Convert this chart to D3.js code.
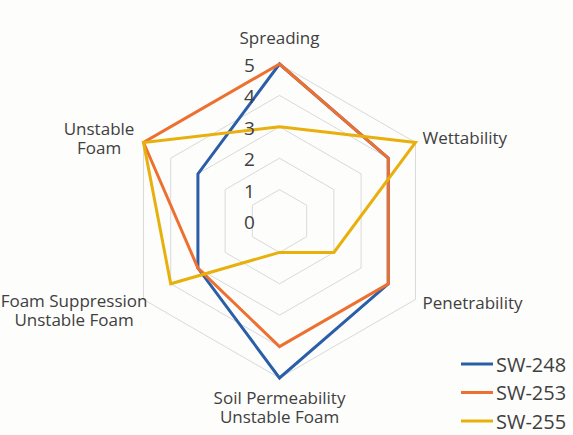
<!DOCTYPE html>
<html>
<head>
<meta charset="utf-8">
<script src="https://cdn.jsdelivr.net/npm/d3@7"></script>
<style>
  html, body { margin: 0; padding: 0; background: #fdfdfc; }
  svg { display: block; }
  text { font-family: "Open Sans", sans-serif; fill: #404040; }
</style>
</head>
<body>
<svg id="chart" width="573" height="435"></svg>
<script>
// ---- data ----
const axes = ["Spreading", "Wettability", "Penetrability", "Soil Permeability", "Foam Suppression", "Unstable Foam"];
const axisLabelLines = [
  ["Spreading"],
  ["Wettability"],
  ["Penetrability"],
  ["Soil Permeability", "Unstable Foam"],
  ["Foam Suppression", "Unstable Foam"],
  ["Unstable", "Foam"]
];
const seriesNames = ["SW-248", "SW-253", "SW-255"];
const sw248 = [5, 4, 4, 5, 3, 3];
const sw253 = [5, 4, 4, 4, 3, 5];
const sw255 = [3, 5, 2, 1, 4, 5];
const tickValues = [0, 1, 2, 3, 4, 5];
const colors = ["#2a5ea8", "#ee7030", "#e8b00c"];

// ---- layout ----
const W = 573, H = 435;
const cx = 279.5, cy = 221, R = 157;
const svg = d3.select("#chart");
svg.append("rect").attr("width", W).attr("height", H).attr("fill", "#fdfdfc");

const r = d3.scaleLinear().domain([0, 5]).range([0, R]);
const angle = d3.scaleLinear().domain([0, axes.length]).range([0, 2 * Math.PI]);
const g = svg.append("g").attr("transform", `translate(${cx},${cy})`);

function pt(i, v) {
  const a = angle(i);
  return [r(v) * Math.sin(a), -r(v) * Math.cos(a)];
}

// grid rings
const ringLine = d3.lineRadial().angle((d, i) => angle(i)).radius(d => r(d)).curve(d3.curveLinearClosed);
tickValues.filter(t => t > 0).forEach(t => {
  g.append("path")
    .attr("d", ringLine(axes.map(() => t)))
    .attr("fill", "none")
    .attr("stroke", "#d9d9d9")
    .attr("stroke-width", 1);
});

// series
const series = [sw248, sw253, sw255];
const line = d3.lineRadial().angle((d, i) => angle(i)).radius(d => r(d)).curve(d3.curveLinearClosed);
series.forEach((s, k) => {
  g.append("path")
    .attr("d", line(s))
    .attr("fill", "none")
    .attr("stroke", colors[k])
    .attr("stroke-width", 3)
    .attr("stroke-linejoin", "miter");
});

// tick labels
g.selectAll("text.tick").data(tickValues).join("text")
  .attr("class", "tick")
  .attr("x", -30)
  .attr("y", d => -r(d) + 8)
  .attr("text-anchor", "middle")
  .attr("font-size", 19)
  .text(d => d);

// axis labels (multi-line labels as one text with tspans)
const labelLayout = [
  { anchor: "middle", dx: 0, dy: -20 },
  { anchor: "start", dx: 7, dy: 1 },
  { anchor: "start", dx: 7, dy: 9 },
  { anchor: "middle", dx: 0, dy: 26 },
  { anchor: "middle", dx: -69.5, dy: 7.5 },
  { anchor: "middle", dx: -44.5, dy: -7.5 }
];
const lh = 19;
axes.forEach((name, i) => {
  const [vx, vy] = pt(i, 5);
  const L = labelLayout[i];
  const x = vx + L.dx;
  const t = g.append("text")
    .attr("font-size", 17)
    .attr("text-anchor", L.anchor)
    .attr("x", x)
    .attr("y", vy + L.dy);
  axisLabelLines[i].forEach((s, j) => {
    t.append("tspan").attr("x", x).attr("dy", j === 0 ? 0 : lh).text(s);
  });
});

// legend
const legend = svg.append("g");
const legendY = d3.scalePoint().domain(seriesNames).range([364, 421]);
seriesNames.forEach((n, k) => {
  const y = legendY(n);
  legend.append("line")
    .attr("x1", 461).attr("x2", 493).attr("y1", y).attr("y2", y)
    .attr("stroke", colors[k]).attr("stroke-width", 3);
  legend.append("text")
    .attr("x", 496).attr("y", y + 7.5)
    .attr("font-size", 20)
    .text(n);
});
</script>
</body>
</html>
